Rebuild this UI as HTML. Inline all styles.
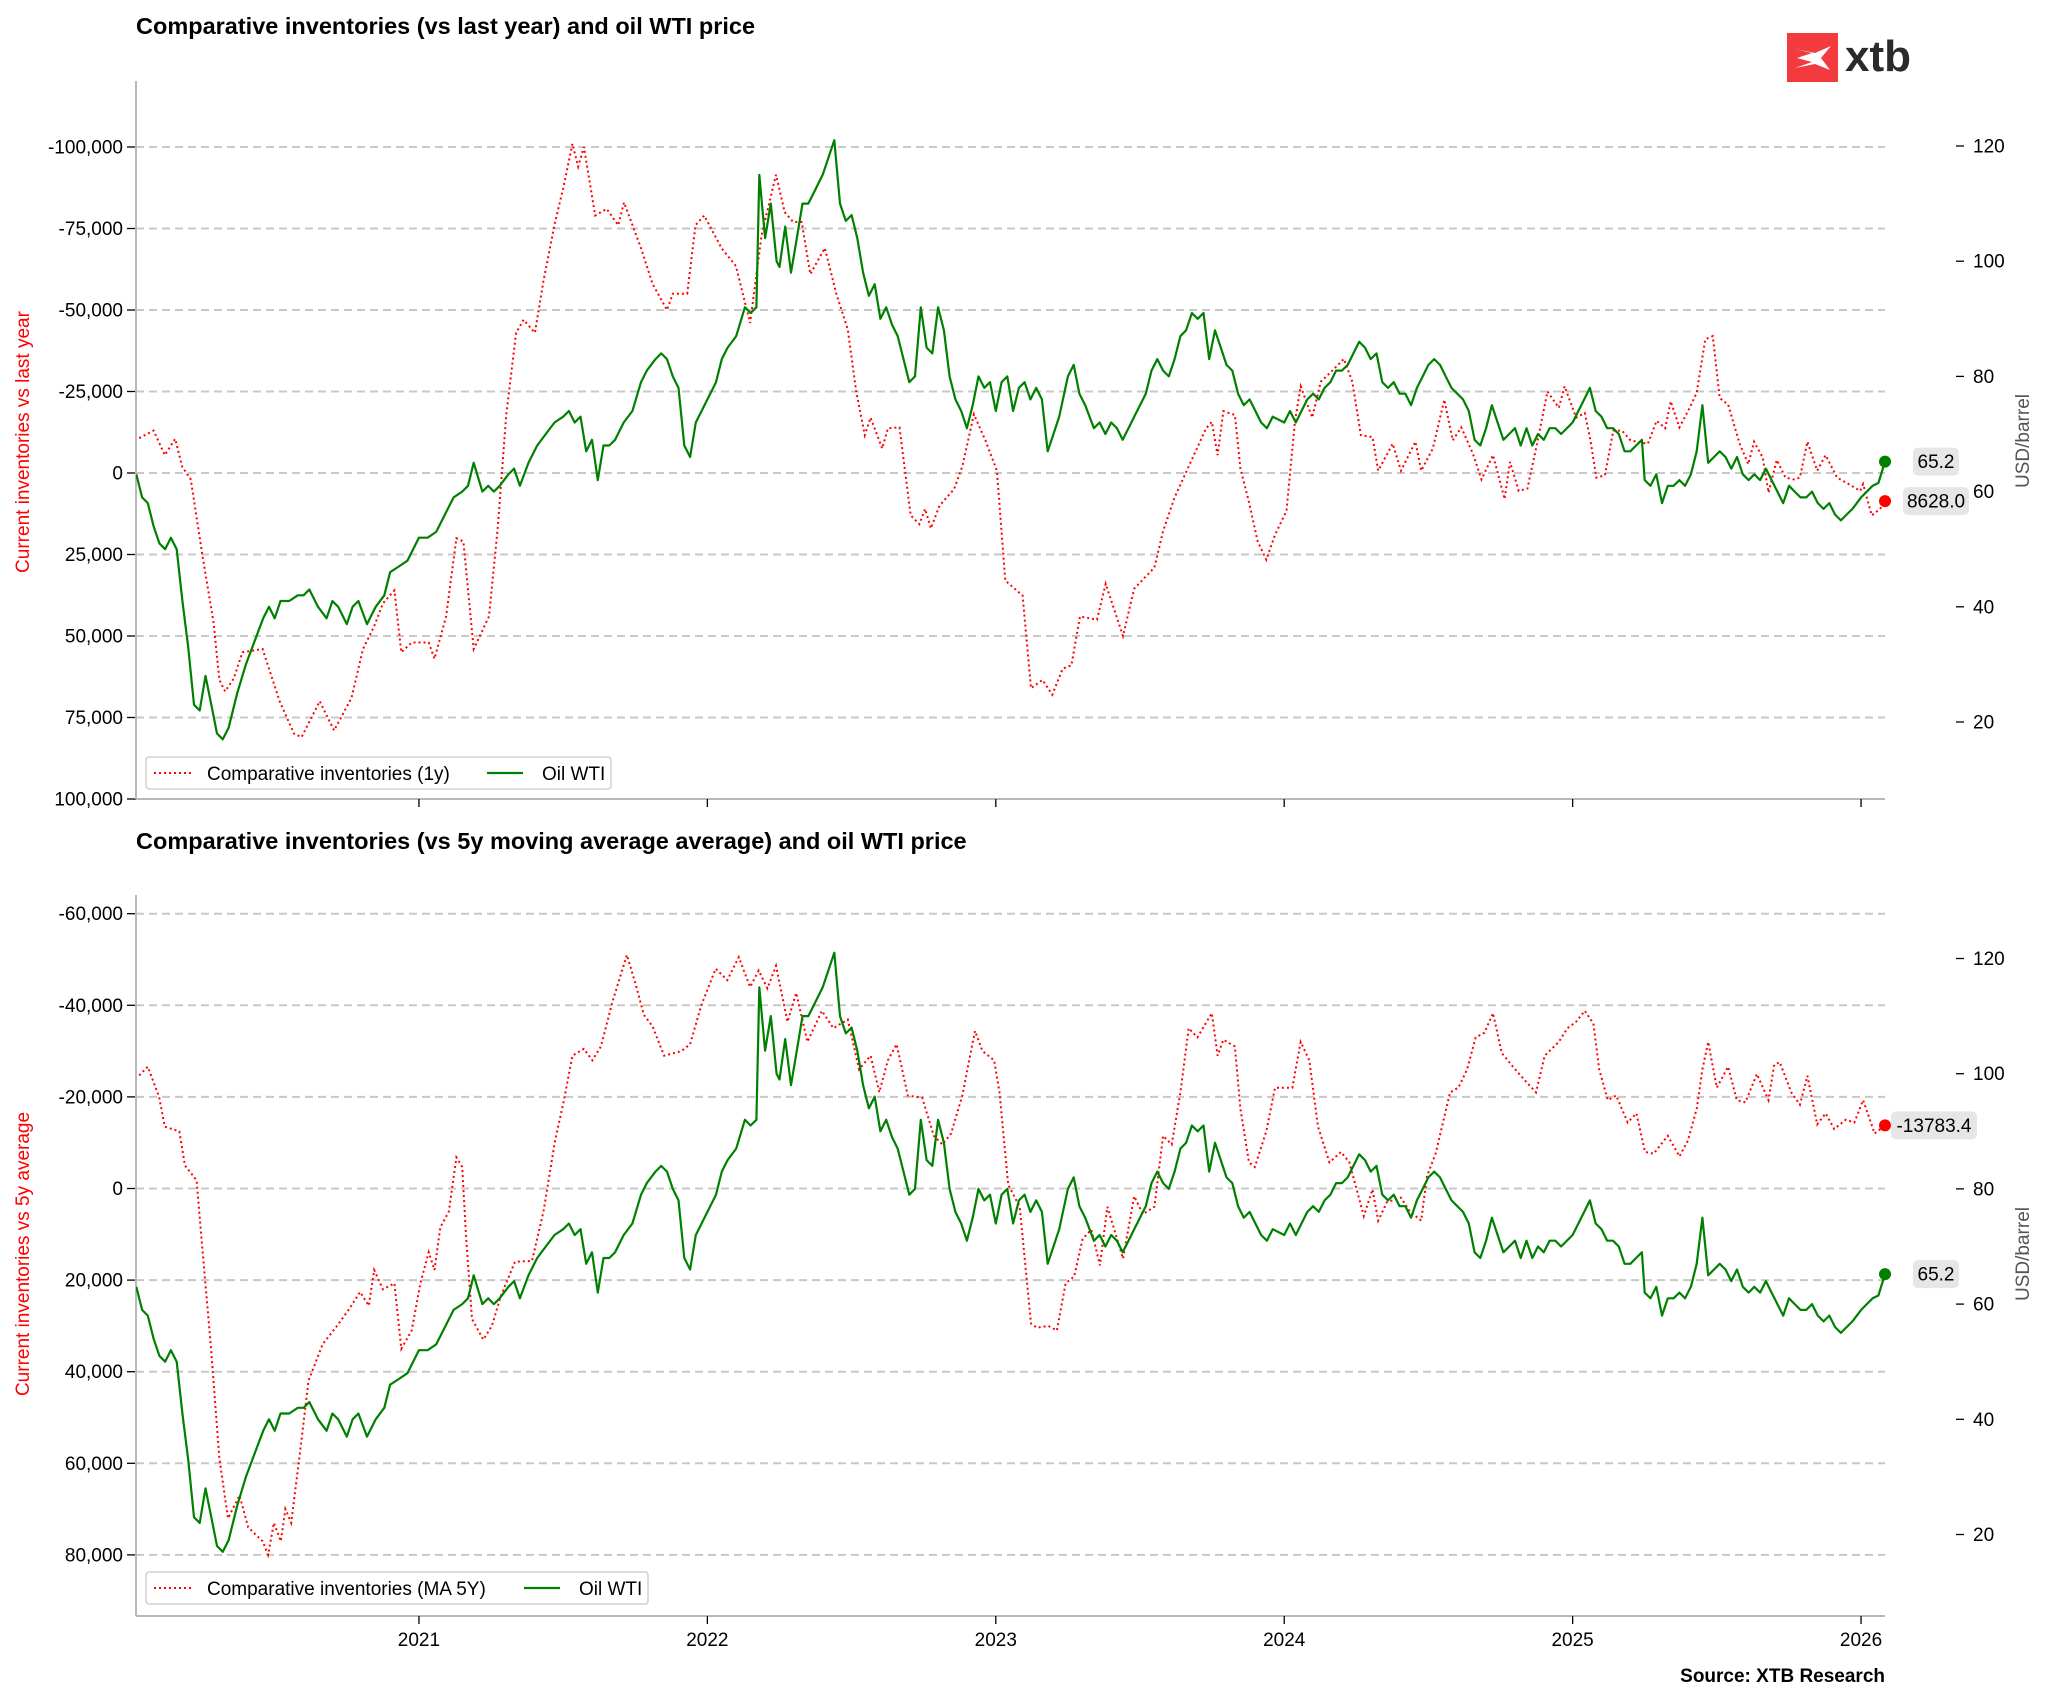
<!DOCTYPE html>
<html><head><meta charset="utf-8"><style>
html,body{margin:0;padding:0;background:#fff;}
svg{display:block;font-family:"Liberation Sans",Arial,sans-serif;}
</style></head><body>
<svg id="chart" width="2048" height="1703" viewBox="0 0 2048 1703" xmlns="http://www.w3.org/2000/svg">
<text x="136" y="34" font-size="23.5" font-weight="bold">Comparative inventories (vs last year) and oil WTI price</text>
<text x="136" y="849" font-size="23.5" font-weight="bold">Comparative inventories (vs 5y moving average average) and oil WTI price</text>
<g>
<rect x="1787" y="33" width="51" height="49" fill="#f23a3f"/>
<path d="M1795 49 L1812 53 L1797 58 L1812 62 L1795 68 L1815 64 L1830 70 L1821 58 L1831 46 L1815 53 Z" fill="#fff"/>
<text x="1845" y="71" font-size="44" font-weight="bold" fill="#2b2b2b">xtb</text>
</g>
<text x="1885" y="1682" font-size="19" font-weight="bold" text-anchor="end">Source: XTB Research</text>
<g id="plots"></g>
</svg>
<script>
const yearTicks = [2021, 2022, 2023, 2024, 2025, 2026];
const topInvTicks = [-100000, -75000, -50000, -25000, 0, 25000, 50000, 75000, 100000];
const botInvTicks = [-60000, -40000, -20000, 0, 20000, 40000, 60000, 80000];
const wtiTicks = [20, 40, 60, 80, 100, 120];

const wtiDates = [2020.02,2020.04,2020.06,2020.08,2020.10,2020.12,2020.14,2020.16,2020.18,2020.20,2020.22,2020.24,2020.26,2020.28,2020.30,2020.32,2020.34,2020.37,2020.40,2020.43,2020.46,2020.48,2020.50,2020.52,2020.55,2020.58,2020.60,2020.62,2020.65,2020.68,2020.70,2020.72,2020.75,2020.77,2020.79,2020.82,2020.85,2020.88,2020.90,2020.93,2020.96,2021.00,2021.03,2021.06,2021.09,2021.12,2021.15,2021.17,2021.19,2021.22,2021.24,2021.26,2021.28,2021.31,2021.33,2021.35,2021.38,2021.41,2021.44,2021.47,2021.50,2021.52,2021.54,2021.56,2021.58,2021.60,2021.62,2021.64,2021.66,2021.68,2021.71,2021.74,2021.77,2021.79,2021.82,2021.84,2021.86,2021.88,2021.90,2021.92,2021.94,2021.96,2021.98,2022.00,2022.03,2022.05,2022.07,2022.10,2022.13,2022.15,2022.17,2022.18,2022.20,2022.22,2022.24,2022.25,2022.27,2022.29,2022.31,2022.33,2022.35,2022.37,2022.40,2022.42,2022.44,2022.46,2022.48,2022.50,2022.52,2022.54,2022.56,2022.58,2022.60,2022.62,2022.64,2022.66,2022.68,2022.70,2022.72,2022.74,2022.76,2022.78,2022.80,2022.82,2022.84,2022.86,2022.88,2022.90,2022.92,2022.94,2022.96,2022.98,2023.00,2023.02,2023.04,2023.06,2023.08,2023.10,2023.12,2023.14,2023.16,2023.18,2023.20,2023.22,2023.25,2023.27,2023.29,2023.31,2023.34,2023.36,2023.38,2023.40,2023.42,2023.44,2023.46,2023.48,2023.50,2023.52,2023.54,2023.56,2023.58,2023.60,2023.62,2023.64,2023.66,2023.68,2023.70,2023.72,2023.74,2023.76,2023.78,2023.80,2023.82,2023.84,2023.86,2023.88,2023.90,2023.92,2023.94,2023.96,2024.00,2024.02,2024.04,2024.06,2024.08,2024.10,2024.12,2024.14,2024.16,2024.18,2024.20,2024.22,2024.24,2024.26,2024.28,2024.30,2024.32,2024.34,2024.36,2024.38,2024.40,2024.42,2024.44,2024.46,2024.48,2024.50,2024.52,2024.54,2024.56,2024.58,2024.60,2024.62,2024.64,2024.66,2024.68,2024.70,2024.72,2024.74,2024.76,2024.78,2024.80,2024.82,2024.84,2024.86,2024.88,2024.90,2024.92,2024.94,2024.96,2025.00,2025.02,2025.04,2025.06,2025.08,2025.10,2025.12,2025.14,2025.16,2025.18,2025.20,2025.22,2025.24,2025.25,2025.27,2025.29,2025.31,2025.33,2025.35,2025.37,2025.39,2025.41,2025.43,2025.45,2025.47,2025.49,2025.51,2025.53,2025.55,2025.57,2025.59,2025.61,2025.63,2025.65,2025.67,2025.69,2025.71,2025.73,2025.75,2025.77,2025.79,2025.81,2025.83,2025.85,2025.87,2025.89,2025.91,2025.93,2025.95,2025.97,2026.00,2026.02,2026.04,2026.06,2026.083];
const wtiValues = [63,59,58,54,51,50,52,50,41,33,23,22,28,23,18,17,19,25,30,34,38,40,38,41,41,42,42,43,40,38,41,40,37,40,41,37,40,42,46,47,48,52,52,53,56,59,60,61,65,60,61,60,61,63,64,61,65,68,70,72,73,74,72,73,67,69,62,68,68,69,72,74,79,81,83,84,83,80,78,68,66,72,74,76,79,83,85,87,92,91,92,115,104,110,100,99,106,98,104,110,110,112,115,118,121,110,107,108,104,98,94,96,90,92,89,87,83,79,80,92,85,84,92,88,80,76,74,71,75,80,78,79,74,79,80,74,78,79,76,78,76,67,70,73,80,82,77,75,71,72,70,72,71,69,71,73,75,77,81,83,81,80,83,87,88,91,90,91,83,88,85,82,81,77,75,76,74,72,71,73,72,74,72,74,76,77,76,78,79,81,81,82,84,86,85,83,84,79,78,79,77,77,75,78,80,82,83,82,80,78,77,76,74,69,68,71,75,72,69,70,71,68,71,68,70,69,71,71,70,72,74,76,78,74,73,71,71,70,67,67,68,69,62,61,63,58,61,61,62,61,63,67,75,65,66,67,66,64,66,63,62,63,62,64,62,60,58,61,60,59,59,60,58,57,58,56,55,56,57,59,60,61,61.5,65.2];

const inv1yDates = [2020.030,2020.080,2020.119,2020.155,2020.179,2020.209,2020.249,2020.288,2020.308,2020.328,2020.358,2020.388,2020.458,2020.517,2020.567,2020.593,2020.656,2020.706,2020.766,2020.806,2020.845,2020.875,2020.915,2020.939,2020.975,2021.034,2021.054,2021.094,2021.130,2021.154,2021.190,2021.243,2021.273,2021.303,2021.337,2021.363,2021.402,2021.432,2021.472,2021.502,2021.532,2021.552,2021.572,2021.611,2021.651,2021.691,2021.711,2021.770,2021.810,2021.860,2021.880,2021.930,2021.959,2021.989,2022.049,2022.099,2022.148,2022.188,2022.238,2022.268,2022.298,2022.327,2022.357,2022.407,2022.447,2022.487,2022.516,2022.546,2022.566,2022.606,2022.626,2022.666,2022.705,2022.735,2022.755,2022.775,2022.805,2022.855,2022.884,2022.924,2022.964,2023.004,2023.033,2023.093,2023.122,2023.162,2023.196,2023.232,2023.262,2023.292,2023.351,2023.381,2023.441,2023.480,2023.550,2023.580,2023.620,2023.669,2023.729,2023.749,2023.769,2023.789,2023.829,2023.848,2023.878,2023.908,2023.938,2023.968,2024.008,2024.037,2024.057,2024.097,2024.127,2024.167,2024.207,2024.236,2024.266,2024.306,2024.326,2024.376,2024.405,2024.455,2024.475,2024.515,2024.555,2024.584,2024.614,2024.654,2024.684,2024.724,2024.764,2024.783,2024.813,2024.843,2024.873,2024.913,2024.952,2024.972,2025.012,2025.042,2025.062,2025.082,2025.112,2025.141,2025.171,2025.201,2025.261,2025.291,2025.321,2025.340,2025.370,2025.400,2025.430,2025.460,2025.486,2025.510,2025.539,2025.579,2025.609,2025.629,2025.659,2025.679,2025.708,2025.738,2025.768,2025.788,2025.814,2025.848,2025.877,2025.917,2025.957,2025.997,2026.007,2026.037,2026.066,2026.083];
const inv1yValues = [-10700,-13000,-5500,-10500,-2000,2000,25000,46000,63500,67000,63000,55000,54000,70000,80000,81000,70000,79000,69000,54000,47000,40000,36000,55000,52000,52000,57000,44000,20000,21000,54000,44000,17000,-18000,-43000,-47000,-43000,-59000,-77000,-88000,-101000,-94000,-100000,-79000,-81000,-76000,-83000,-69000,-58000,-50000,-55000,-55000,-76000,-79000,-69000,-63500,-46000,-73000,-91500,-80000,-77000,-77000,-61000,-69000,-55000,-44000,-25000,-11600,-17000,-7500,-13700,-14000,13000,15700,11000,17000,10000,5000,-2000,-18000,-10000,-700,33000,37600,66000,63500,68000,60000,59000,44000,45000,34000,50000,35500,29000,17800,7500,-2000,-13700,-15700,-5500,-19000,-17800,-1400,9000,21000,26600,19000,11600,-15700,-26600,-17000,-28000,-31400,-35000,-28000,-11600,-11000,-700,-9000,-700,-9600,-700,-7500,-22500,-10000,-14000,-6000,2000,-5500,8000,-3400,5500,4800,-7500,-25000,-20000,-26600,-17000,-18400,-10000,1400,700,-13000,-13000,-10000,-9000,-16000,-13700,-22000,-14000,-19000,-24600,-41000,-42000,-23000,-21000,-9000,-2700,-9600,-4800,6000,-4000,1400,2000,1400,-9600,-700,-5500,1400,3400,5500,3400,13000,11000,8628];

const inv5yDates = [2020.030,2020.060,2020.099,2020.119,2020.169,2020.189,2020.229,2020.249,2020.278,2020.308,2020.338,2020.378,2020.408,2020.458,2020.477,2020.497,2020.521,2020.537,2020.557,2020.587,2020.617,2020.666,2020.716,2020.756,2020.796,2020.826,2020.845,2020.875,2020.915,2020.939,2020.975,2021.005,2021.034,2021.054,2021.074,2021.104,2021.130,2021.150,2021.164,2021.184,2021.223,2021.253,2021.283,2021.333,2021.392,2021.432,2021.472,2021.502,2021.532,2021.572,2021.601,2021.631,2021.671,2021.721,2021.751,2021.780,2021.810,2021.850,2021.910,2021.940,2021.979,2022.029,2022.069,2022.109,2022.148,2022.178,2022.208,2022.238,2022.278,2022.308,2022.347,2022.397,2022.437,2022.487,2022.526,2022.566,2022.596,2022.626,2022.656,2022.695,2022.745,2022.785,2022.815,2022.845,2022.884,2022.928,2022.954,2022.994,2023.013,2023.043,2023.083,2023.122,2023.142,2023.182,2023.212,2023.242,2023.272,2023.301,2023.331,2023.361,2023.387,2023.411,2023.441,2023.480,2023.510,2023.550,2023.580,2023.610,2023.640,2023.669,2023.699,2023.749,2023.769,2023.789,2023.829,2023.848,2023.878,2023.898,2023.938,2023.968,2024.028,2024.057,2024.087,2024.117,2024.157,2024.197,2024.226,2024.276,2024.306,2024.326,2024.356,2024.405,2024.435,2024.475,2024.495,2024.525,2024.575,2024.604,2024.634,2024.664,2024.694,2024.724,2024.754,2024.793,2024.833,2024.873,2024.903,2024.952,2024.982,2025.012,2025.042,2025.072,2025.092,2025.122,2025.151,2025.191,2025.221,2025.251,2025.281,2025.330,2025.370,2025.400,2025.430,2025.450,2025.470,2025.500,2025.539,2025.569,2025.599,2025.639,2025.679,2025.699,2025.718,2025.758,2025.788,2025.814,2025.848,2025.877,2025.907,2025.947,2025.977,2026.007,2026.047,2026.083];
const inv5yValues = [-24700,-26600,-20000,-13500,-12500,-5000,-1800,13000,34000,59000,72000,67000,74000,77000,80000,73000,77000,70000,73000,58000,42000,34000,30000,26500,22600,25600,17800,22000,20700,35000,31000,20700,13900,17800,8500,5000,-6800,-4700,11000,28500,33000,30000,23600,16000,15800,5000,-10500,-19000,-29000,-30500,-28000,-31000,-40800,-51000,-44700,-37900,-35400,-29000,-30000,-31500,-40000,-48000,-45500,-50500,-44000,-47600,-43700,-48600,-36400,-42700,-32000,-38800,-35000,-36900,-26000,-29000,-21000,-28000,-31500,-20300,-19800,-11500,-9600,-12000,-20300,-34400,-30000,-28000,-21000,-800,4000,29500,30400,30000,31000,20700,19200,11000,9000,16800,4000,9000,15300,1700,5600,4000,-11500,-9600,-21000,-35000,-33000,-38300,-29000,-32500,-31000,-17400,-5700,-4700,-12500,-22000,-22000,-32000,-28000,-13500,-5700,-8000,-5700,6000,200,7000,3000,2000,5000,7000,-2700,-7600,-21000,-22000,-26000,-33000,-34000,-38300,-29600,-26600,-23700,-21000,-29000,-32000,-35000,-36400,-38800,-36000,-26000,-19300,-20300,-14400,-16400,-8000,-7600,-11500,-7000,-10500,-17400,-26000,-32000,-22000,-26600,-19300,-18800,-25000,-19300,-27000,-27600,-21000,-18300,-24600,-14000,-16400,-13000,-15000,-14400,-19300,-12000,-13783.4];

const NS = 'http://www.w3.org/2000/svg';
const plots = document.getElementById('plots');
const X0 = 136, X1 = 1885, D0 = 2020.019, D1 = 2026.083;
const FS = 19;
function xScale(d){ return X0 + (d - D0) / (D1 - D0) * (X1 - X0); }
function mk(tag, attrs, parent){
  const e = document.createElementNS(NS, tag);
  for (const k in attrs) e.setAttribute(k, attrs[k]);
  (parent || plots).appendChild(e);
  return e;
}
function fmt(v){ return v.toLocaleString('en-US'); }

function panel(cfg){
  const g = mk('g', {});
  
  
  const yL = v => cfg.zeroY + v * cfg.pxPerUnit;
  const yR = v => cfg.r120 + (120 - v) * 5.76;
  cfg.ticks.forEach(t => {
    const y = yL(t);
    const gl = mk('line', {x1: X0, x2: X1, y1: y, y2: y, stroke: '#c8c8c8', 'stroke-width': 2, 'stroke-dasharray': '8,5'}, g);
    
    
    mk('line', {x1: X0 - 9, x2: X0, y1: y, y2: y, stroke: '#000', 'stroke-width': 1.3}, g);
    const tl = mk('text', {x: X0 - 13, y: y + 6.5, 'font-size': FS, 'text-anchor': 'end'}, g);
    tl.textContent = fmt(t);
    
    
  });
  wtiTicks.forEach(t => {
    const y = yR(t);
    mk('line', {x1: 1956, x2: 1964, y1: y, y2: y, stroke: '#000', 'stroke-width': 1.3}, g);
    const tl = mk('text', {x: 1973, y: y + 6.5, 'font-size': FS}, g);
    tl.textContent = t;
    
    
  });
  mk('line', {x1: X0, x2: X0, y1: cfg.top, y2: cfg.bottom, stroke: '#b8b8b8', 'stroke-width': 2}, g);
  mk('line', {x1: X0, x2: X1, y1: cfg.bottom, y2: cfg.bottom, stroke: '#b8b8b8', 'stroke-width': 2}, g);
  yearTicks.forEach(yr => {
    const x = xScale(yr);
    mk('line', {x1: x, x2: x, y1: cfg.bottom, y2: cfg.bottom + 8, stroke: '#000', 'stroke-width': 1.3}, g);
    if (cfg.xLabels) {
      const tl = mk('text', {x: x, y: cfg.bottom + 30, 'font-size': FS, 'text-anchor': 'middle'}, g);
      tl.textContent = yr;
      
      
    }
  });
  const lt = mk('text', {x: 0, y: 0, 'font-size': FS, fill: '#ff0000', 'text-anchor': 'middle', transform: `translate(29,${cfg.labelY}) rotate(-90)`}, g);
  lt.textContent = cfg.leftTitle;
  
  
  const rt = mk('text', {x: 0, y: 0, 'font-size': FS, fill: '#555', 'text-anchor': 'middle', transform: `translate(2029,${cfg.rLabelY}) rotate(-90)`}, g);
  rt.textContent = 'USD/barrel';
  
  
  const clipId = cfg.name + '-clip';
  const cp = mk('clipPath', {id: clipId}, g);
  mk('rect', {x: X0, y: cfg.top, width: X1 - X0 + 10, height: cfg.bottom - cfg.top}, cp);
  const redPts = cfg.invDates.map((d, i) => xScale(d).toFixed(1) + ',' + yL(cfg.invValues[i]).toFixed(1)).join(' ');
  const red = mk('polyline', {points: redPts, fill: 'none', stroke: '#ff0000', 'stroke-width': 2, 'stroke-dasharray': '2,3', 'clip-path': `url(#${clipId})`}, g);
  
  
  const grPts = wtiDates.map((d, i) => xScale(d).toFixed(1) + ',' + yR(wtiValues[i]).toFixed(1)).join(' ');
  const gr = mk('polyline', {points: grPts, fill: 'none', stroke: '#008000', 'stroke-width': 2.2, 'stroke-linejoin': 'round', 'clip-path': `url(#${clipId})`}, g);
  
  
  const lastI = cfg.invValues.length - 1, lastW = wtiValues.length - 1;
  const rd = mk('circle', {cx: xScale(cfg.invDates[lastI]), cy: yL(cfg.invValues[lastI]), r: 6, fill: '#ff0000'}, g);
  
  
  const gd = mk('circle', {cx: xScale(wtiDates[lastW]), cy: yR(wtiValues[lastW]), r: 6, fill: '#008000'}, g);
  
  
  function badge(cx, cy, txt, name){
    const w = txt.length * 10 + 6;
    const b = mk('g', {}, g);
    
    
    mk('rect', {x: cx - w / 2, y: cy - 14, width: w, height: 28, rx: 5, fill: '#e6e6e6'}, b);
    const t = mk('text', {x: cx, y: cy + 6.5, 'font-size': FS, 'text-anchor': 'middle'}, b);
    t.textContent = txt;
  }
  badge(1936, yR(wtiValues[lastW]), wtiValues[lastW].toFixed(1), 'wti-last-value-label');
  badge(cfg.invBadgeX, yL(cfg.invValues[lastI]), cfg.invValues[lastI].toFixed(1), 'inventories-last-value-label');
  const lg = mk('g', {}, g);
  
  
  mk('rect', {x: 146, y: cfg.legY, width: cfg.legW, height: 32, rx: 3, fill: '#fff', stroke: '#d0d0d0', 'stroke-width': 1.5}, lg);
  mk('line', {x1: 154, x2: 192, y1: cfg.legY + 16, y2: cfg.legY + 16, stroke: '#ff0000', 'stroke-width': 2, 'stroke-dasharray': '2,3'}, lg);
  const l1 = mk('text', {x: 207, y: cfg.legY + 23, 'font-size': FS}, lg);
  l1.textContent = cfg.legText;
  
  
  mk('line', {x1: cfg.legLineX, x2: cfg.legLineX + 36, y1: cfg.legY + 16, y2: cfg.legY + 16, stroke: '#008000', 'stroke-width': 2.2}, lg);
  const l2 = mk('text', {x: cfg.legLineX + 55, y: cfg.legY + 23, 'font-size': FS}, lg);
  l2.textContent = 'Oil WTI';
  
  
}

panel({name: 'top-panel', top: 81, bottom: 799, zeroY: 473, pxPerUnit: 0.00326, r120: 146,
  ticks: topInvTicks, xLabels: false, leftTitle: 'Current inventories vs last year', labelY: 442, rLabelY: 441,
  invDates: inv1yDates, invValues: inv1yValues, invBadgeX: 1936, legY: 757, legW: 465, legLineX: 487, legText: 'Comparative inventories (1y)'});
panel({name: 'bottom-panel', top: 895, bottom: 1616, zeroY: 1188.5, pxPerUnit: 0.00458, r120: 958.5,
  ticks: botInvTicks, xLabels: true, leftTitle: 'Current inventories vs 5y average', labelY: 1254, rLabelY: 1254,
  invDates: inv5yDates, invValues: inv5yValues, invBadgeX: 1934, legY: 1572, legW: 502, legLineX: 524, legText: 'Comparative inventories (MA 5Y)'});
</script>
</body></html>
